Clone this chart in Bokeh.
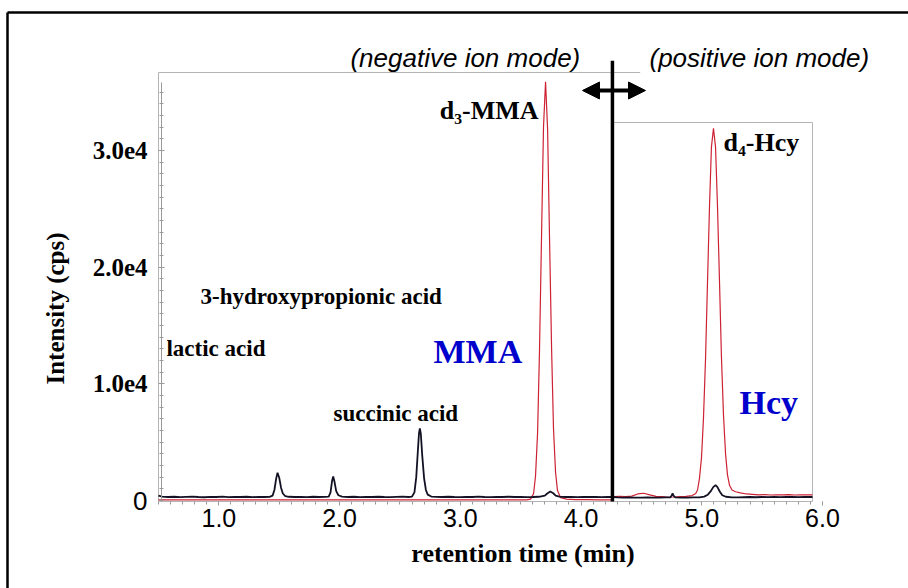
from bokeh.plotting import figure
from bokeh.models import Range1d, LinearAxis, FixedTicker, Arrow, NormalHead
from bokeh.core.properties import value
from bokeh.embed import file_html
from bokeh.resources import INLINE

# ---------------- data ----------------
# analyte traces (black): lactic acid, 3-hydroxypropionic acid, succinic acid, MMA | Hcy
analyte_time = [0.50, 0.53, 0.58, 0.63, 0.68, 0.73, 0.78, 0.83, 0.88, 0.93, 0.98, 1.03, 1.08, 1.13,
                1.18, 1.23, 1.28, 1.33, 1.38, 1.42, 1.445, 1.46, 1.475, 1.486, 1.50, 1.515, 1.53,
                1.55, 1.58, 1.63, 1.68, 1.73, 1.78, 1.83, 1.88, 1.91, 1.925, 1.938, 1.947, 1.958,
                1.972, 1.99, 2.02, 2.07, 2.12, 2.17, 2.22, 2.27, 2.32, 2.37, 2.42, 2.47, 2.52, 2.57,
                2.60, 2.62, 2.635, 2.648, 2.658, 2.665, 2.673, 2.685, 2.70, 2.715, 2.73, 2.76, 2.80,
                2.85, 2.90, 2.95, 3.00, 3.05, 3.10, 3.15, 3.20, 3.25, 3.30, 3.35, 3.40, 3.45, 3.50,
                3.55, 3.60, 3.65, 3.70, 3.72, 3.745, 3.77, 3.79, 3.82, 3.87, 3.92, 3.97, 4.02, 4.07,
                4.12, 4.17, 4.22, 4.26, 4.30, 4.35, 4.40, 4.45, 4.50, 4.55, 4.60, 4.65, 4.70, 4.74,
                4.752, 4.758, 4.766, 4.78, 4.83, 4.88, 4.93, 4.98, 5.02, 5.05, 5.075, 5.095, 5.114,
                5.13, 5.15, 5.17, 5.20, 5.25, 5.30, 5.35, 5.40, 5.45, 5.50, 5.55, 5.60, 5.65, 5.70,
                5.75, 5.80, 5.85, 5.917]
analyte_cps = [420, 330, 300, 320, 290, 310, 330, 300, 280, 310, 300, 330, 290, 310,
               300, 320, 290, 310, 300, 310, 420, 900, 1900, 2380, 1950, 1100, 600,
               380, 320, 300, 310, 290, 320, 300, 310, 330, 700, 1700, 2060, 1600,
               800, 450, 340, 300, 320, 290, 310, 300, 320, 300, 290, 310, 330, 300,
               340, 700, 2000, 4200, 5800, 6170, 5700, 3800, 1900, 900, 500, 340, 310,
               300, 320, 300, 290, 310, 300, 330, 300, 290, 310, 300, 320, 300, 310,
               290, 300, 320, 420, 600, 770, 620, 420, 330, 300, 310, 290, 300, 310,
               300, 290, 300, 300, 260, 250, 270, 250, 240, 260, 250, 240, 260, 270,
               450, 620, 420, 270, 250, 240, 260, 270, 330, 500, 800, 1150, 1320,
               1150, 750, 450, 320, 270, 260, 280, 300, 280, 300, 290, 310, 290, 300,
               310, 290, 300, 300]

# internal-standard traces (red): d3-MMA | d4-Hcy
istd_time = [0.50, 0.60, 0.70, 0.80, 0.90, 1.00, 1.10, 1.20, 1.30, 1.40, 1.50, 1.60, 1.70, 1.80,
             1.90, 2.00, 2.10, 2.20, 2.30, 2.40, 2.50, 2.60, 2.70, 2.80, 2.90, 3.00, 3.10, 3.20,
             3.30, 3.40, 3.50, 3.55, 3.582, 3.607, 3.623, 3.640, 3.656, 3.673, 3.689, 3.706,
             3.723, 3.739, 3.756, 3.772, 3.789, 3.805, 3.83, 3.88, 3.95, 4.05, 4.15, 4.25,
             4.27, 4.32, 4.37, 4.42, 4.47, 4.52, 4.57, 4.62, 4.67, 4.72, 4.77, 4.82, 4.87,
             4.92, 4.95, 4.965, 4.981, 4.998, 5.014, 5.031, 5.047, 5.064, 5.080, 5.097, 5.114,
             5.130, 5.147, 5.163, 5.180, 5.197, 5.213, 5.230, 5.25, 5.28, 5.32, 5.37, 5.42,
             5.47, 5.52, 5.57, 5.62, 5.67, 5.72, 5.77, 5.82, 5.87, 5.917]
istd_cps = [60, 55, 60, 50, 60, 55, 60, 50, 55, 60, 50, 60, 55, 60,
            50, 60, 55, 60, 50, 55, 60, 55, 50, 60, 55, 60, 50, 55,
            60, 55, 60, 60, 120, 600, 2100, 5800, 12900, 22800, 32000, 35900,
            31800, 22500, 13000, 6100, 2400, 850, 250, 120, 80, 70, 60, 60,
            330, 350, 330, 380, 560, 620, 480, 360, 330, 280, 300, 330, 360,
            420, 600, 900, 1900, 3700, 7000, 12100, 18500, 25200, 30300, 31900, 30300,
            25300, 18700, 12300, 7300, 4000, 2200, 1300, 900, 750, 650, 560, 520,
            480, 500, 470, 490, 480, 500, 470, 490, 480, 490]

x_ticks = [1, 2, 3, 4, 5, 6]
x_tick_labels = ["1.0", "2.0", "3.0", "4.0", "5.0", "6.0"]
y_ticks = [10000, 20000, 30000]
y_tick_labels = ["1.0e4", "2.0e4", "3.0e4"]
y_zero_tick = [0]
y_zero_label = ["0"]

# ---------------- geometry of the composite figure ----------------
PX_PER_MIN = 120.727            # horizontal scale
CPS_PER_PX = 85.714             # vertical scale
X_START = 0.5 - 158 / PX_PER_MIN
X_END = X_START + 908 / PX_PER_MIN
Y_END = 500 * CPS_PER_PX
Y_START = -88 * CPS_PER_PX

MODE_SWITCH = 4.26              # negative / positive ion mode boundary
LEFT_PANEL_TOP = 36686
LEFT_PANEL_RIGHT = 4.49
RIGHT_PANEL_TOP = 32400
RIGHT_PANEL_RIGHT = 5.917
AXIS_Y = -86

p = figure(width=908, height=588, output_backend="svg", toolbar_location=None,
           x_range=Range1d(X_START, X_END), y_range=Range1d(Y_START, Y_END),
           x_axis_location=None, y_axis_location=None, min_border=0,
           outline_line_color=None, background_fill_color="white",
           border_fill_color="white")
p.grid.grid_line_color = None

# outer border of the figure
p.line(x=[X_START + 7 / PX_PER_MIN] * 2, y=[Y_START - 1000, Y_END - 12 * CPS_PER_PX],
       line_color="black", line_width=2.5)
p.line(x=[X_START + 7 / PX_PER_MIN, X_END + 1], y=[Y_END - 12 * CPS_PER_PX] * 2,
       line_color="black", line_width=2.5)

# grey panel frames
grey = "#b4b4b4"
p.line(x=[0.5, 0.5, LEFT_PANEL_RIGHT], y=[AXIS_Y, LEFT_PANEL_TOP, LEFT_PANEL_TOP],
       line_color=grey, line_width=1)
p.line(x=[MODE_SWITCH, RIGHT_PANEL_RIGHT, RIGHT_PANEL_RIGHT],
       y=[RIGHT_PANEL_TOP, RIGHT_PANEL_TOP, AXIS_Y], line_color=grey, line_width=1)
p.line(x=[0.5, RIGHT_PANEL_RIGHT], y=[AXIS_Y, AXIS_Y], line_color=grey, line_width=1.2)

# traces
p.line(istd_time, istd_cps, line_color="#cc2233", line_width=1.2)
p.line(analyte_time, analyte_cps, line_color="#121224", line_width=1.8)

# ion-mode divider and double arrow
p.line(x=[MODE_SWITCH, MODE_SWITCH], y=[AXIS_Y, 37700], line_color="black", line_width=3.5)
p.add_layout(Arrow(start=NormalHead(size=17, fill_color="black", line_color="black"),
                   end=NormalHead(size=17, fill_color="black", line_color="black"),
                   x_start=4.012, y_start=35143, x_end=4.534, y_end=35143,
                   line_color="black", line_width=4))

# mode titles
p.text(x=[2.09, 4.567], y=[37886, 37886], text=["(negative ion mode)", "(positive ion mode)"],
       text_font=value("Liberation Sans"), text_font_style="italic", text_font_size="26px",
       text_baseline="middle", text_align="left", text_color="black")

# compound labels
p.text(x=[0.848, 0.566, 1.95], y=[17486, 13029, 7457],
       text=["3-hydroxypropionic acid", "lactic acid", "succinic acid"],
       text_font=value("Liberation Serif"), text_font_style="bold", text_font_size="23px",
       text_baseline="middle", text_align="left", text_color="black")
p.text(x=[3.648], y=[33430], text=["d\u2083-MMA"],
       text_font=value("Liberation Serif"), text_font_style="bold", text_font_size="26px",
       text_baseline="middle", text_align="right", text_color="black")
p.text(x=[5.18], y=[30686], text=["d\u2084-Hcy"],
       text_font=value("Liberation Serif"), text_font_style="bold", text_font_size="26px",
       text_baseline="middle", text_align="left", text_color="black")
p.text(x=[2.778, 5.313], y=[12771, 8400], text=["MMA", "Hcy"],
       text_font=value("Liberation Serif"), text_font_style="bold", text_font_size="34px",
       text_baseline="middle", text_align="left", text_color="#0000cc")

# ---------------- axes ----------------
axis_grey = "#9a9a9a"
yax = LinearAxis(fixed_location=0.525, bounds=(0, 35800),
                 ticker=FixedTicker(ticks=y_ticks, minor_ticks=[k * 1000 for k in range(0, 36)]),
                 major_label_overrides=dict(zip(y_ticks, y_tick_labels)),
                 major_label_text_font="Liberation Serif", major_label_text_font_style="bold",
                 major_label_text_font_size="25px", major_label_text_color="black",
                 major_label_standoff=11,
                 axis_line_color=axis_grey, major_tick_line_color=axis_grey,
                 minor_tick_line_color=axis_grey, major_tick_in=3, major_tick_out=3,
                 minor_tick_in=2, minor_tick_out=2)
p.add_layout(yax, "left")

yax0 = LinearAxis(fixed_location=0.525, bounds=(0, 32914),
                  ticker=FixedTicker(ticks=y_zero_tick, minor_ticks=[]),
                  major_label_overrides=dict(zip(y_zero_tick, y_zero_label)),
                  major_label_text_font="Liberation Sans", major_label_text_font_style="normal",
                  major_label_text_font_size="26px", major_label_text_color="black",
                  major_label_standoff=11, major_tick_out=3, major_tick_in=0,
                  axis_line_color=None, major_tick_line_color=None, minor_tick_line_color=None,
                  axis_label="Intensity (cps)", axis_label_text_font="Liberation Serif",
                  axis_label_text_font_style="bold", axis_label_text_font_size="25px",
                  axis_label_text_color="black", axis_label_standoff=61)
p.add_layout(yax0, "left")

xax = LinearAxis(fixed_location=AXIS_Y, bounds=(0.5, 6.0),
                 ticker=FixedTicker(ticks=x_ticks, minor_ticks=[0.5 + k * 0.1 for k in range(0, 56)]),
                 major_label_overrides=dict(zip(x_ticks, x_tick_labels)),
                 major_label_text_font="Liberation Sans", major_label_text_font_size="25px",
                 major_label_text_color="black", major_label_standoff=3,
                 axis_line_color=None, major_tick_line_color=axis_grey,
                 minor_tick_line_color=axis_grey, major_tick_in=0, major_tick_out=4,
                 minor_tick_in=0, minor_tick_out=3)
p.add_layout(xax, "below")

xax_t = LinearAxis(fixed_location=AXIS_Y, bounds=(1.04, 6.0),
                   ticker=FixedTicker(ticks=[], minor_ticks=[]),
                   axis_line_color=None, major_tick_line_color=None, minor_tick_line_color=None,
                   major_tick_in=0, major_tick_out=0,
                   axis_label="retention time (min)", axis_label_text_font="Liberation Serif",
                   axis_label_text_font_style="bold", axis_label_text_font_size="26px",
                   axis_label_text_color="black", axis_label_standoff=37)
p.add_layout(xax_t, "below")

open("out.html", "w").write(file_html(p, INLINE))
